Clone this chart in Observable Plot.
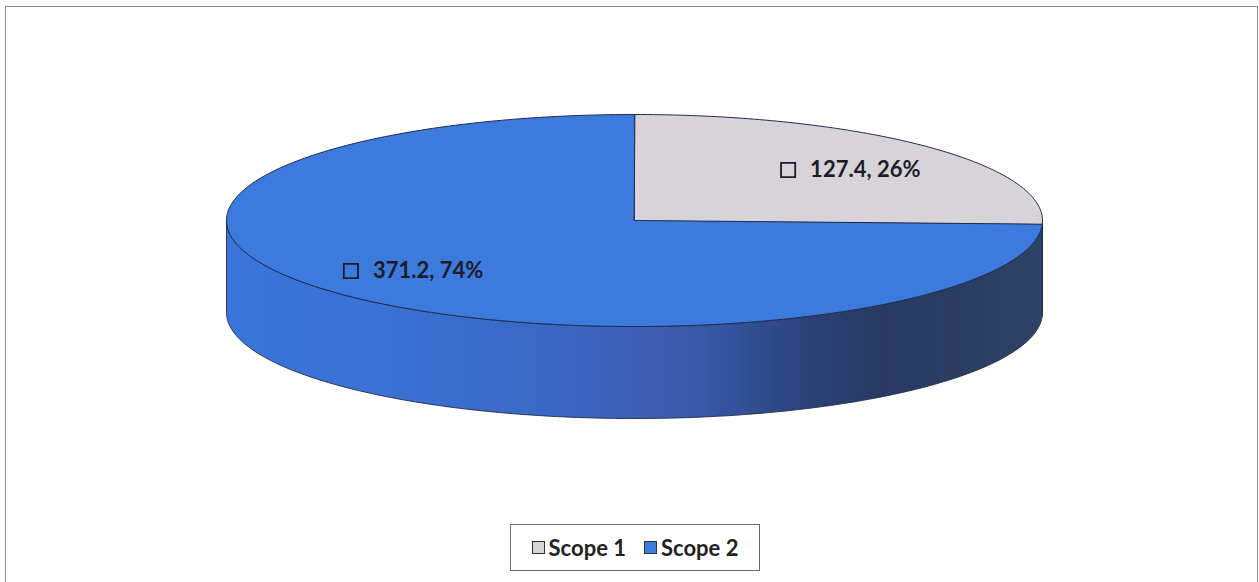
<!DOCTYPE html>
<html>
<head>
<meta charset="utf-8">
<script src="https://cdn.jsdelivr.net/npm/d3@7"></script>
<script src="https://cdn.jsdelivr.net/npm/@observablehq/plot@0.6"></script>
<style>
  html, body { margin: 0; padding: 0; background: #ffffff; }
  body { width: 1259px; height: 582px; position: relative; overflow: hidden; font-family: Lato, "Open Sans", sans-serif; }
  #frame { position: absolute; left: 5px; top: 6px; width: 1253px; height: 580px; border: 1.5px solid #8c8c8c; box-sizing: border-box; }
  #chart { position: absolute; left: 0; top: 0; }
  #legend { position: absolute; left: 510px; top: 524px; width: 250px; height: 47px; box-sizing: border-box;
            border: 1.5px solid #6a6a6a; background: #fff; display: flex; align-items: center; justify-content: center; gap: 0; }
  .item { display: flex; align-items: center; font-weight: 700; font-size: 22px; color: #222; margin: 0 9px; }
  .sw { width: 11px; height: 11px; border: 1.6px solid #333; margin-right: 4px; }
</style>
</head>
<body>
<div id="frame"></div>
<div id="chart"></div>
<div id="legend"></div>
<script>
// ---- data ----
const categories = ["Scope 1", "Scope 2"];
const values = [127.4, 371.2];
const colors = ["#d7d3d9", "#3d7ade"];

// ---- layout ----
const W = 1259, H = 510;
const cx = 634, cy = 220, rx = 408, ry = 106, depth = 92;

const total = d3.sum(values);
const arcs = d3.pie().sort(null)(values);

function ept(a, dy) {
  return { x: cx + rx * Math.sin(a), y: cy - ry * Math.cos(a) + dy };
}
function arcPts(a0, a1, dy) {
  const n = Math.max(2, Math.ceil((a1 - a0) / (2 * Math.PI) * 400));
  const pts = [];
  for (let i = 0; i <= n; i++) pts.push(ept(a0 + (a1 - a0) * i / n, dy));
  return pts;
}

// top faces
const tops = arcs.map((a, i) => ({
  cat: categories[i],
  fill: colors[i],
  pts: [{ x: cx, y: cy }, ...arcPts(a.startAngle, a.endAngle, 0)]
}));

// visible side faces (front half: angle PI/2 .. 3PI/2)
const sideFills = ["#8d8a94", "url(#sideGrad)"];
const sides = [];
arcs.forEach((a, i) => {
  const s = Math.max(a.startAngle, Math.PI / 2);
  const e = Math.min(a.endAngle, 3 * Math.PI / 2);
  if (s < e) {
    sides.push({
      cat: categories[i],
      fill: sideFills[i],
      pts: [...arcPts(s, e, 0), ...arcPts(s, e, depth).reverse()]
    });
  }
});

// labels
const fx = 0.745, fy = 0.686;
const labels = arcs.map((a, i) => {
  const m = (a.startAngle + a.endAngle) / 2;
  const pct = Math.round(values[i] / total * 100);
  return {
    x: cx + rx * fx * Math.sin(m),
    y: cy - ry * fy * Math.cos(m),
    text: `${values[i]}, ${pct}%`
  };
});

const marks = [];
sides.forEach(s => marks.push(Plot.line(s.pts, { x: "x", y: "y", fill: s.fill, stroke: "#1f2d4c", strokeWidth: 0.9, curve: "linear-closed" })));
tops.forEach(t => marks.push(Plot.line(t.pts, { x: "x", y: "y", fill: t.fill, stroke: "#1f2d4c", strokeWidth: 1, curve: "linear-closed" })));
marks.push(Plot.dot(labels, { x: d => d.x - 65, y: "y", symbol: "square", r: 8, fill: "none", stroke: "#1c1c28", strokeWidth: 1.8 }));
marks.push(Plot.text(labels, { x: d => d.x - 43, y: "y", text: "text", textAnchor: "start", fontSize: 22, fontWeight: "bold", fill: "#1c1c28", fontFamily: "Lato" }));

const svg = Plot.plot({
  width: W, height: H,
  margin: 0,
  style: { background: "transparent", overflow: "visible" },
  x: { domain: [0, W], range: [0, W], axis: null },
  y: { domain: [0, H], range: [0, H], axis: null },
  marks
});

const ns = "http://www.w3.org/2000/svg";
const defs = document.createElementNS(ns, "defs");
const grad = document.createElementNS(ns, "linearGradient");
grad.setAttribute("id", "sideGrad");
grad.setAttribute("x1", "0"); grad.setAttribute("x2", "1");
grad.setAttribute("y1", "0"); grad.setAttribute("y2", "0");
[[0, "#3a74da"], [0.2, "#3a71d4"], [0.4, "#3a67c4"], [0.52, "#3e5fb2"], [0.62, "#34529c"],
 [0.72, "#2b4174"], [0.8, "#283a64"], [0.9, "#2a3d60"], [1, "#2d4466"]].forEach(([o, c]) => {
  const st = document.createElementNS(ns, "stop");
  st.setAttribute("offset", o); st.setAttribute("stop-color", c);
  grad.appendChild(st);
});
defs.appendChild(grad);
svg.insertBefore(defs, svg.firstChild);
document.getElementById("chart").appendChild(svg);

// legend
const legend = d3.select("#legend");
categories.forEach((c, i) => {
  const it = legend.append("div").attr("class", "item");
  it.append("div").attr("class", "sw").style("background", colors[i]);
  it.append("span").text(c);
});
</script>
</body>
</html>
